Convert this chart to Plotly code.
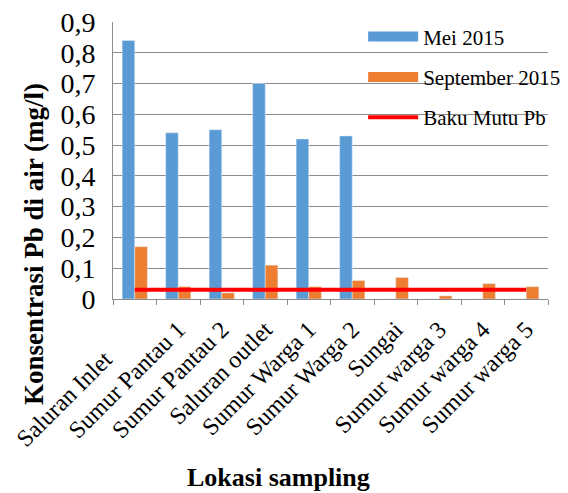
import plotly.graph_objects as go

categories = ["Saluran Inlet", "Sumur Pantau 1", "Sumur Pantau 2", "Saluran outlet",
              "Sumur Warga 1", "Sumur Warga 2", "Sungai", "Sumur warga 3",
              "Sumur warga 4", "Sumur warga 5"]
mei_2015 = [0.84, 0.54, 0.55, 0.70, 0.52, 0.53, 0, 0, 0, 0]
sep_2015 = [0.17, 0.04, 0.02, 0.11, 0.04, 0.06, 0.07, 0.01, 0.05, 0.04]
baku_mutu = [0.03] * 10
y_ticks = [0, 0.1, 0.2, 0.3, 0.4, 0.5, 0.6, 0.7, 0.8, 0.9]
y_tick_labels = ["0", "0,1", "0,2", "0,3", "0,4", "0,5", "0,6", "0,7", "0,8", "0,9"]
y_title = "Konsentrasi Pb di air (mg/l)"
x_title = "Lokasi sampling"

font = "Liberation Serif"
blue = "#5B9BD5"
orange = "#ED7D31"
red = "#FF0000"

# first label sits further down the diagonal in the reference (kept clear of the y title)
x_tick_labels = [categories[0] + "\u00a0" * 7] + categories[1:]

fig = go.Figure()
fig.add_trace(go.Bar(x=categories, y=mei_2015, name="Mei 2015", marker_color=blue,
                     showlegend=False))
fig.add_trace(go.Bar(x=categories, y=sep_2015, name="September 2015", marker_color=orange,
                     showlegend=False))
fig.add_trace(go.Scatter(x=categories, y=baku_mutu, name="Baku Mutu Pb", mode="lines",
                         line=dict(color=red, width=4), showlegend=False))
# legend entries (wide rectangles like the reference)
fig.add_trace(go.Scatter(x=[None], y=[None], name="Mei 2015", mode="lines",
                         legendgroup="a", line=dict(color=blue, width=11)))
fig.add_trace(go.Scatter(x=[None], y=[None], name="September 2015", mode="lines",
                         legendgroup="b", line=dict(color=orange, width=11)))
fig.add_trace(go.Scatter(x=[None], y=[None], name="Baku Mutu Pb", mode="lines",
                         legendgroup="c", line=dict(color=red, width=4)))

fig.update_layout(
    width=568, height=493,
    margin=dict(l=113, r=2, t=22, b=194),
    paper_bgcolor="white", plot_bgcolor="white",
    barmode="group", bargap=0.42, bargroupgap=0,
    font=dict(family=font, color="black"),
    showlegend=True,
    legend=dict(x=0.575, y=1.02, xanchor="left", yanchor="top", bgcolor="rgba(0,0,0,0)",
                font=dict(size=21, family=font, color="black"), tracegroupgap=10,
                itemwidth=50),
    annotations=[
        dict(text="<b>" + y_title + "</b>", xref="paper", yref="paper", x=-0.183, y=0.20,
             xanchor="center", yanchor="middle", textangle=-90, showarrow=False,
             font=dict(size=27, family=font, color="black")),
        dict(text="<b>" + x_title + "</b>", xref="paper", yref="paper", x=0.38, y=-0.646,
             xanchor="center", yanchor="middle", showarrow=False,
             font=dict(size=26, family=font, color="black")),
    ],
)
fig.update_yaxes(range=[0, 0.9], tickvals=y_ticks, ticktext=y_tick_labels, automargin=False,
                 tickfont=dict(size=28, family=font, color="black"), showgrid=True,
                 gridcolor="#8C8C8C", gridwidth=1, showline=True, linecolor="#8C8C8C",
                 zeroline=False, ticks="", ticklabelstandoff=11)
fig.update_xaxes(tickangle=-45, tickvals=categories, ticktext=x_tick_labels,
                 tickfont=dict(size=24, family=font, color="black"),
                 automargin=False, showline=True, ticklabelstandoff=6,
                 linecolor="#8C8C8C", ticks="outside", tickson="boundaries", ticklen=5,
                 tickcolor="#8C8C8C")

fig.write_html("out.html", post_script="document.body.style.margin='0';",
               config={"displayModeBar": False})
